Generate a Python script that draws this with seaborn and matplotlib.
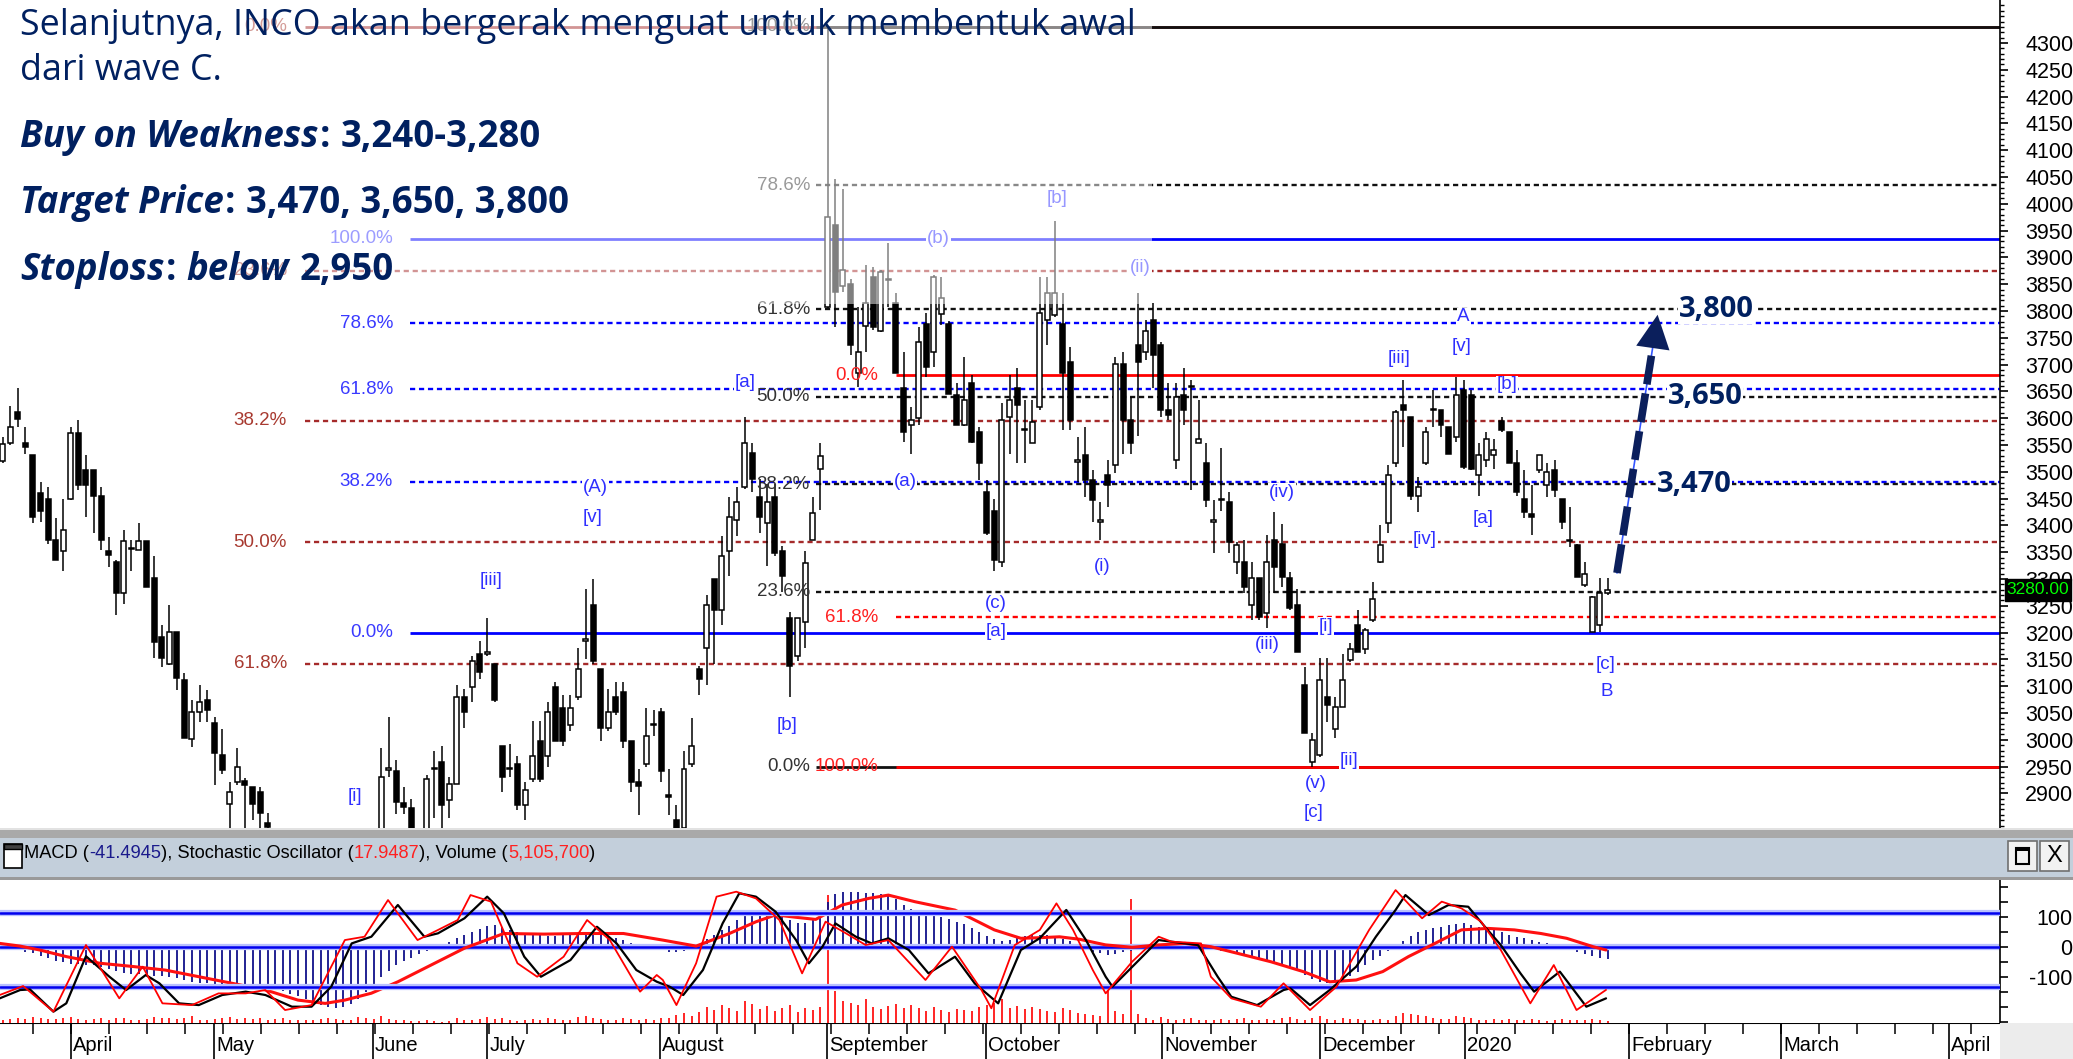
import numpy as np
import pandas as pd
import matplotlib
matplotlib.use("Agg")
import matplotlib.pyplot as plt
from matplotlib.patches import Rectangle
import seaborn as sns

# ---------------- data ----------------
opens = [3520, 3553, 3612, 3553, 3531, 3460, 3450, 3373, 3353, 3449,
         3573, 3503, 3503, 3454, 3353, 3332, 3273, 3358, 3355, 3371,
         3301, 3192, 3142, 3202, 3112, 3001, 3052, 3074, 3031, 2972,
         2881, 2922, 2924, 2912, 2903, 2844, 2820, 2780, 2750, 2720,
         2700, 2680, 2700, 2740, 2770, 2750, 2720, 2760, 2790, 2780,
         2800, 2944, 2941, 2882, 2872, 2820, 2800, 2945, 2958, 2888,
         2917, 3080, 3099, 3161, 3160, 3142, 2989, 2945, 2955, 2878,
         2926, 2998, 2969, 3099, 3060, 3027, 3080, 3185, 3252, 3132,
         3022, 3080, 3089, 2998, 2921, 2955, 3027, 3051, 2897, 2850,
         2835, 2955, 3132, 3171, 3300, 3242, 3353, 3410, 3472, 3535,
         3453, 3405, 3453, 3353, 3228, 3156, 3219, 3372, 3506, 3808,
         3961, 3846, 3850, 3684, 3772, 3864, 3762, 3858, 3814, 3656,
         3588, 3600, 3776, 3724, 3794, 3776, 3643, 3587, 3665, 3575,
         3463, 3426, 3332, 3603, 3656, 3578, 3553, 3621, 3783, 3792,
         3776, 3705, 3519, 3531, 3485, 3407, 3494, 3512, 3702, 3597,
         3737, 3724, 3783, 3737, 3615, 3522, 3643, 3658, 3553, 3516,
         3407, 3450, 3444, 3332, 3332, 3251, 3301, 3236, 3373, 3366,
         3301, 3251, 3102, 2959, 2972, 3080, 3021, 3062, 3149, 3214,
         3170, 3223, 3332, 3404, 3516, 3624, 3603, 3454, 3516, 3615,
         3615, 3584, 3565, 3653, 3643, 3494, 3522, 3531, 3594, 3575,
         3516, 3450, 3422, 3503, 3475, 3503, 3450, 3370, 3363, 3289,
         3201, 3214, 3273]
highs = [3565, 3623, 3656, 3584, 3531, 3481, 3472, 3413, 3450, 3584,
         3597, 3531, 3503, 3472, 3379, 3335, 3391, 3373, 3404, 3371,
         3342, 3214, 3251, 3202, 3124, 3074, 3102, 3093, 3043, 3021,
         2922, 2984, 2928, 2912, 2912, 2863, 2830, 2800, 2790, 2760,
         2740, 2720, 2760, 2790, 2800, 2780, 2770, 2810, 2825, 2820,
         2984, 3043, 2962, 2912, 2890, 2835, 2935, 2979, 2989, 2931,
         3103, 3094, 3156, 3185, 3228, 3142, 2989, 2993, 2969, 2921,
         3036, 3036, 3070, 3108, 3084, 3084, 3171, 3281, 3300, 3132,
         3094, 3108, 3108, 2998, 2945, 3060, 3056, 3060, 2945, 2878,
         2979, 3041, 3137, 3271, 3300, 3381, 3453, 3472, 3602, 3554,
         3487, 3477, 3477, 3362, 3238, 3228, 3353, 3453, 3554, 4330,
         4047, 4028, 3860, 3808, 3886, 3883, 3876, 3926, 3833, 3724,
         3621, 3771, 3796, 3867, 3864, 3782, 3665, 3715, 3680, 3584,
         3485, 3450, 3628, 3680, 3693, 3634, 3634, 3864, 3864, 3967,
         3833, 3733, 3565, 3584, 3503, 3444, 3522, 3715, 3724, 3640,
         3833, 3783, 3814, 3743, 3665, 3665, 3693, 3671, 3634, 3553,
         3447, 3544, 3463, 3369, 3373, 3332, 3301, 3382, 3425, 3403,
         3313, 3282, 3136, 3012, 3152, 3152, 3080, 3161, 3180, 3242,
         3208, 3295, 3401, 3513, 3615, 3671, 3603, 3491, 3584, 3653,
         3615, 3584, 3677, 3671, 3653, 3553, 3575, 3562, 3603, 3575,
         3540, 3503, 3475, 3531, 3516, 3522, 3450, 3435, 3366, 3332,
         3268, 3301, 3301]
lows = [3516, 3550, 3584, 3534, 3404, 3407, 3366, 3335, 3314, 3447,
        3466, 3416, 3385, 3354, 3323, 3233, 3254, 3314, 3354, 3286,
        3152, 3136, 3139, 3093, 3003, 2987, 3034, 3034, 2915, 2937,
        2820, 2915, 2820, 2850, 2820, 2810, 2760, 2730, 2700, 2680,
        2650, 2640, 2690, 2720, 2730, 2700, 2710, 2740, 2760, 2760,
        2790, 2930, 2862, 2862, 2800, 2790, 2790, 2854, 2835, 2854,
        2917, 3022, 3070, 3113, 3156, 3070, 2902, 2931, 2869, 2850,
        2921, 2921, 2950, 2998, 2989, 3017, 3075, 3151, 3142, 2998,
        3017, 3046, 2984, 2902, 2859, 2950, 3008, 2921, 2859, 2825,
        2825, 2950, 3084, 3103, 3142, 3214, 3305, 3380, 3468, 3463,
        3386, 3324, 3343, 3276, 3080, 3147, 3171, 3372, 3429, 3805,
        3770, 3836, 3718, 3659, 3724, 3765, 3760, 3808, 3684, 3556,
        3534, 3587, 3677, 3696, 3774, 3646, 3587, 3585, 3553, 3485,
        3382, 3314, 3323, 3534, 3516, 3516, 3553, 3615, 3737, 3789,
        3578, 3578, 3481, 3453, 3407, 3373, 3435, 3497, 3534, 3534,
        3566, 3708, 3656, 3603, 3597, 3506, 3587, 3466, 3553, 3435,
        3348, 3426, 3348, 3310, 3273, 3223, 3223, 3208, 3273, 3286,
        3242, 3164, 3012, 2950, 2968, 3034, 3003, 3062, 3146, 3164,
        3161, 3220, 3329, 3385, 3509, 3547, 3447, 3425, 3513, 3584,
        3565, 3534, 3556, 3506, 3503, 3454, 3509, 3506, 3575, 3516,
        3454, 3413, 3382, 3497, 3453, 3453, 3394, 3360, 3304, 3286,
        3201, 3202, 3270]
closes = [3552, 3584, 3598, 3546, 3416, 3426, 3373, 3335, 3391, 3573,
          3475, 3475, 3454, 3373, 3345, 3273, 3371, 3356, 3371, 3286,
          3183, 3152, 3202, 3115, 3003, 3052, 3071, 3055, 2975, 2944,
          2903, 2950, 2916, 2881, 2863, 2838, 2780, 2750, 2720, 2700,
          2680, 2700, 2740, 2770, 2750, 2720, 2760, 2790, 2780, 2800,
          2931, 2946, 2884, 2874, 2820, 2810, 2926, 2947, 2878, 2917,
          3080, 3051, 3147, 3127, 3163, 3075, 2931, 2947, 2878, 2907,
          2969, 2926, 3051, 2998, 2998, 3060, 3132, 3187, 3147, 3022,
          3051, 3051, 2998, 2921, 2914, 3008, 3029, 2941, 2893, 2835,
          2945, 2989, 3113, 3252, 3242, 3343, 3415, 3444, 3554, 3487,
          3415, 3444, 3348, 3305, 3137, 3228, 3329, 3424, 3530, 3975,
          3836, 3876, 3737, 3724, 3814, 3771, 3873, 3860, 3684, 3575,
          3597, 3743, 3696, 3864, 3824, 3646, 3587, 3634, 3556, 3516,
          3385, 3335, 3597, 3634, 3624, 3580, 3593, 3796, 3833, 3833,
          3684, 3596, 3521, 3485, 3447, 3409, 3475, 3702, 3597, 3553,
          3705, 3762, 3718, 3615, 3606, 3640, 3615, 3660, 3562, 3447,
          3409, 3447, 3369, 3363, 3285, 3301, 3230, 3332, 3323, 3304,
          3245, 3164, 3012, 2999, 3111, 3065, 3062, 3111, 3170, 3164,
          3205, 3262, 3363, 3494, 3612, 3615, 3454, 3472, 3575, 3617,
          3587, 3534, 3643, 3509, 3506, 3531, 3562, 3540, 3578, 3516,
          3463, 3425, 3416, 3531, 3500, 3466, 3407, 3372, 3304, 3310,
          3266, 3273, 3280]
volume_m = [8, 10, 12, 9, 14, 11, 10, 9, 12, 15,
            10, 8, 9, 11, 7, 13, 12, 8, 7, 10,
            14, 11, 12, 9, 13, 16, 8, 7, 10, 12,
            14, 9, 11, 10, 12, 8, 9, 11, 7, 6,
            8, 7, 10, 12, 9, 6, 8, 14, 11, 9,
            18, 9, 7, 6, 5, 4, 6, 4, 3, 4,
            12, 6, 8, 10, 14, 9, 11, 7, 5, 6,
            9, 7, 12, 10, 8, 6, 14, 18, 12, 9,
            7, 6, 11, 9, 8, 10, 7, 13, 12, 20,
            24, 18, 26, 40, 32, 45, 38, 30, 55, 48,
            35, 42, 30, 38, 44, 28, 36, 32, 40, 320,
            80, 55, 50, 45, 60, 40, 35, 42, 48, 38,
            44, 36, 30, 40, 33, 28, 35, 32, 30, 40,
            45, 50, 60, 38, 42, 35, 40, 34, 30, 28,
            36, 32, 24, 22, 20, 18, 85, 30, 22, 310,
            22, 12, 8, 14, 10, 7, 9, 12, 8, 6,
            8, 10, 6, 9, 12, 7, 6, 10, 8, 12,
            14, 10, 8, 12, 16, 9, 8, 11, 10, 9,
            7, 8, 10, 6, 18, 24, 22, 20, 16, 12,
            10, 9, 18, 14, 12, 8, 6, 9, 7, 10,
            8, 6, 9, 7, 5, 8, 10, 7, 6, 8,
            9, 6, 5.1]
macd_vals = [-5, -8, -12, -16, -22, -30, -38, -46, -52, -56,
             -58, -60, -62, -68, -75, -82, -88, -90, -92, -94,
             -96, -98, -100, -104, -110, -116, -120, -122, -126, -128,
             -130, -132, -133, -134, -134, -136, -140, -148, -156, -165,
             -175, -185, -195, -200, -205, -200, -190, -175, -150, -125,
             -100, -80, -62, -48, -36, -25, -15, -5, 5, 15,
             28, 38, 48, 58, 68, 72, 65, 55, 48, 42,
             40, 38, 36, 37, 38, 40, 42, 44, 44, 40,
             36, 30, 22, 14, 8, 3, -4, -10, -16, -18,
             -14, -5, 10, 25, 40, 55, 70, 90, 108, 120,
             122, 118, 110, 100, 88, 80, 78, 90, 110, 150,
             175, 182, 183, 183, 180, 178, 176, 170, 160, 140,
             125, 118, 112, 108, 100, 92, 84, 75, 62, 48,
             35, 25, 18, 22, 30, 36, 40, 40, 38, 32,
             26, 20, 8, -8, -16, -22, -26, -24, -18, -14,
             -12, -10, -8, -6, -2, 0, 2, 1, -2, -6,
             -11, -15, -19, -22, -28, -34, -40, -48, -55, -62,
             -72, -82, -95, -108, -118, -122, -118, -110, -98, -84,
             -62, -44, -30, -15, 2, 20, 35, 48, 56, 62,
             66, 72, 76, 78, 74, 66, 60, 55, 48, 40,
             34, 28, 22, 16, 12, 8, 2, -10, -18, -24,
             -30, -36, -41]
signal_bar = [-0.4, 2.3, 4.9, 8.4, 12.8, 17.2, 21.5, 25.9, 30.3, 34.7,
              39.0, 42.6, 45.2, 48.7, 52.2, 56.6, 61.0, 66.2, 71.5, 76.7,
              82.0, 87.2, 91.6, 96.0, 99.5, 102.1, 104.8, 107.4, 110.9, 114.4,
              117.0, 120.5, 125.8, 131.0, 134.5, 137.0, 139.6, 142.2, 145.7, 149.2,
              152.7, 156.2, 159.6, 163.1, 167.5, 171.8, 175.3, 178.8, 182.3, 185.7,
              189.2, 192.7, 196.2, 199.7, 203.2, 206.6, 210.1, 211.8]
signal_val = [11, 2, -11, -33, -55, -66, -78, -100, -122, -144,
              -178, -189, -178, -155, -117, -61, -5, 44, 42, 44,
              44, 22, 2, 44, 83, 106, 98, 91, 139, 161,
              172, 150, 122, 56, 28, 30, 33, 25, 6, -2,
              6, 11, 0, -22, -50, -83, -117, -111, -83, -33,
              11, 56, 61, 56, 44, 28, 0, -11]
stoch_k_bar = [-0.4, 2.7, 6.7, 11.0, 15.4, 18.5, 21.1, 25.0, 28.5, 32.1,
               34.7, 37.3, 40.8, 45.2, 47.8, 50.9, 54.8, 57.5, 60.1, 61.8,
               64.5, 68.0, 70.6, 74.1, 77.2, 80.2, 84.2, 86.4, 87.2, 89.0,
               91.6, 94.3, 96.9, 99.5, 102.6, 105.6, 108.7, 111.4, 114.0, 117.0,
               121.9, 125.4, 129.3, 130.6, 133.7, 137.0, 139.2, 141.4, 144.0, 145.7,
               149.2, 152.7, 154.4, 158.3, 159.6, 162.3, 166.2, 169.2, 172.7, 176.2,
               180.5, 184.0, 187.5, 190.1, 192.7, 195.3, 197.9, 201.8, 204.9, 207.9,
               211.8]
stoch_k_val = [13.8, 21.0, 0.4, 54.0, 11.1, 36.6, 7.1, 5.7, 15.1, 15.1,
               17.8, 1.7, 5.7, 58.0, 60.7, 90.2, 58.0, 66.1, 74.1, 94.2,
               88.9, 39.3, 28.5, 44.6, 74.1, 58.0, 16.5, 29.9, 25.9, 5.7,
               39.3, 92.9, 96.9, 91.5, 74.1, 31.2, 72.8, 63.4, 54.0, 58.0,
               25.9, 52.7, 17.8, 3.1, 54.0, 66.1, 87.5, 66.1, 33.9, 15.1,
               40.6, 60.7, 56.7, 55.3, 28.5, 11.1, 4.4, 23.2, 1.7, 20.5,
               66.1, 98.2, 75.5, 88.9, 83.5, 72.8, 50.0, 7.1, 37.9, 1.7,
               17.9]
stoch_d_bar = [-0.4, 2.3, 3.6, 6.7, 8.4, 11.0, 14.1, 16.3, 18.9, 20.7,
               23.3, 25.9, 29.0, 32.1, 34.7, 38.2, 40.8, 43.4, 46.1, 48.7,
               52.2, 55.7, 57.5, 61.0, 64.0, 66.2, 68.9, 71.1, 75.0, 78.5,
               81.1, 83.7, 86.4, 88.1, 89.9, 92.5, 95.1, 97.3, 99.5, 102.1,
               104.8, 106.5, 108.3, 110.0, 112.7, 114.8, 117.0, 119.7, 122.3, 125.8,
               128.4, 131.5, 134.5, 137.0, 140.5, 143.1, 145.7, 146.6, 150.1, 152.7,
               154.4, 157.9, 160.5, 162.3, 165.7, 169.2, 170.1, 172.7, 175.3, 178.8,
               181.4, 184.0, 185.3, 188.4, 191.0, 193.6, 195.8, 197.9, 200.5, 202.3,
               205.7, 209.2, 211.8]
stoch_d_val = [11.1, 17.8, 18.3, 0.4, 7.1, 45.0, 28.5, 17.8, 29.9, 23.2,
               7.1, 5.7, 13.8, 16.5, 13.8, 4.4, 4.4, 20.5, 55.3, 60.7,
               86.2, 60.7, 63.4, 75.5, 92.9, 79.5, 44.6, 28.5, 41.9, 68.7,
               55.3, 33.9, 24.5, 20.5, 13.8, 33.9, 71.4, 95.6, 92.9, 80.8,
               58.0, 39.3, 52.7, 71.4, 60.7, 55.3, 59.4, 50.0, 31.2, 44.6,
               23.2, 7.1, 50.0, 59.5, 82.2, 58.0, 28.5, 20.5, 41.9, 58.0,
               56.7, 54.0, 28.5, 12.4, 5.7, 17.8, 19.2, 5.7, 17.8, 36.6,
               60.7, 82.2, 94.2, 78.1, 86.2, 84.8, 68.7, 54.0, 31.2, 16.5,
               32.6, 4.4, 11.1]
month_labels = ["April", "May", "June", "July", "August", "September", "October",
                "November", "December", "2020", "February", "March", "April"]
month_pos = [9.0, 27.9, 48.9, 64.0, 86.8, 108.9, 129.9, 153.1, 174.0, 193.2, 214.9, 234.9, 257.1]
price_ticks = list(range(2900, 4301, 50))

fibD_pct = [0.0, 23.6, 38.2, 50.0, 61.8]
fibD_price = [4330, 3875, 3595, 3369, 3142]
fibC_pct = [100.0, 78.6, 61.8, 38.2, 0.0]
fibC_price = [3935, 3777, 3654, 3481, 3200]
fibA_pct = [100.0, 78.6, 61.8, 50.0, 38.2, 23.6, 0.0]
fibA_price = [4330, 4035, 3803, 3640, 3477, 3276, 2950]
fibB_pct = [0.0, 61.8, 100.0]
fibB_price = [3680, 3229, 2950]

wave_text = ["[i]", "[iii]", "(A)", "[v]", "[a]", "[b]", "(b)", "[b]", "(ii)", "(a)",
             "(c)", "[a]", "(i)", "(iv)", "(iii)", "[i]", "(v)", "[c]", "[ii]", "[iii]",
             "[iv]", "A", "[v]", "[b]", "[a]", "[c]", "B"]
wave_bar = [46.5, 64.5, 78.3, 77.9, 98.1, 103.6, 123.6, 139.3, 150.3, 119.2,
            131.2, 131.2, 145.2, 169.0, 167.0, 174.8, 173.4, 173.1, 177.8, 184.5,
            187.9, 193.0, 192.7, 198.7, 195.6, 211.8, 211.9]
wave_price = [2894, 3297, 3470, 3415, 3667, 3027, 3936, 4010, 3882, 3482,
              3255, 3202, 3323, 3461, 3177, 3211, 2919, 2865, 2962, 3712,
              3374, 3789, 3734, 3662, 3413, 3140, 3090]

targets = ["3,800", "3,650", "3,470"]
target_price = [3803, 3640, 3477]
last_price_label = "3280.00"
last_price = 3280

# ---------------- setup ----------------
W, H = 2073, 1059
sns.set_theme(style="white")
NARROW = ['Liberation Sans Narrow', 'Liberation Sans', 'DejaVu Sans']
plt.rcParams['font.family'] = NARROW
plt.rcParams['axes.unicode_minus'] = False
NAVY = '#002060'
LAB_FS = 13.5

fig = plt.figure(figsize=(W / 100, H / 100), dpi=100)
fig.patch.set_facecolor('white')
renderer = fig.canvas.get_renderer()


def fx(x):
    return x / W


def fy(y):
    return 1 - y / H


def bx(x):          # pixel x -> bar index
    return (x - 2.7) / 7.57


def py(y):          # pixel y -> price
    return 4300 - (y - 43) / 0.536


XL = (bx(0), bx(2000))

# ---------------- main price panel ----------------
ax = fig.add_axes([0, fy(828), fx(2000), 828 / H])
ax.set_xlim(*XL)
ax.set_ylim(py(828), py(0))
ax.set_facecolor('white')
for s in ['left', 'top', 'bottom']:
    ax.spines[s].set_visible(False)
ax.spines['right'].set_color('black')
ax.spines['right'].set_linewidth(1.2)
ax.set_xticks([])
ax.yaxis.tick_right()
ax.set_yticks(price_ticks)
ax.set_yticks(np.arange(2840, 4380, 10), minor=True)
ax.tick_params(axis='y', which='major', right=True, left=False, labelright=True, labelleft=False,
               length=6, width=1.2, direction='out', pad=12, labelsize=15.5, colors='black')
ax.tick_params(axis='y', which='minor', right=True, left=False, length=3, width=1, colors='black')

# fibonacci sets
DOT = (0, (2.2, 1.6))


def fib_set(pcts, prices, color, lab_color, lab_right, start):
    for pc, p in zip(pcts, prices):
        solid = pc in (0.0, 100.0)
        ax.hlines(p, bx(start), XL[1], colors=color, lw=2.0 if solid else 1.7,
                  linestyles='solid' if solid else DOT, zorder=2)
        ax.text(bx(lab_right), p, f"{pc:.1f}%", color=lab_color, ha='right', va='center',
                fontsize=LAB_FS, zorder=4.6)


fib_set(fibD_pct, fibD_price, '#a52a2a', '#a83a30', 287, 305)
fib_set(fibC_pct, fibC_price, '#0000ff', '#3a3aff', 393, 410)
fib_set(fibA_pct, fibA_price, '#111111', '#333333', 810, 816)
fib_set(fibB_pct, fibB_price, '#ff0000', '#ff2020', 878, 896)

# candles
df = pd.DataFrame(dict(o=opens, h=highs, l=lows, c=closes))
df['i'] = np.arange(len(df))
up = df.c >= df.o
lo = np.minimum(df.o, df.c)
hb = np.maximum((df.c - df.o).abs(), 2.5)
ax.vlines(df.i, df.l, df.h, color='black', lw=1.1, zorder=3)
ax.bar(df.i[up], hb[up], bottom=lo[up], width=0.66, color='white', edgecolor='black', linewidth=1.1, zorder=4)
ax.bar(df.i[~up], hb[~up], bottom=lo[~up], width=0.66, color='black', edgecolor='black', linewidth=1.1, zorder=4)

# wave labels
for t, b, p in zip(wave_text, wave_bar, wave_price):
    ax.text(b, p, t, color='#2f2fff', ha='center', va='center', fontsize=LAB_FS, zorder=4.8,
            bbox=dict(fc='white', ec='none', pad=0.6))

# faded (semi-transparent white) area behind the text block
ax.add_patch(Rectangle((XL[0], py(304)), bx(1152) - XL[0], py(0) - py(304),
                       fc='white', ec='none', alpha=0.5, zorder=5))

# forecast arrow
tail = (bx(1617), py(573))
tip = (bx(1658), py(312))
neck = (bx(1655), py(333))
ax.plot([tail[0], neck[0]], [tail[1], neck[1]], color='#3355ff', lw=1.2, zorder=6)
ax.plot([tail[0], neck[0]], [tail[1], neck[1]], color='#0b1f5c', lw=5.5, dashes=(3.8, 1.2),
        solid_capstyle='butt', zorder=6.5)
ax.annotate('', xy=tip, xytext=neck,
            arrowprops=dict(arrowstyle='-|>,head_length=1.1,head_width=0.55', mutation_scale=22,
                            color='#0b1f5c', lw=0), zorder=7)

for t, p, xl in zip(targets, target_price, [1679, 1668, 1657]):
    ax.text(bx(xl), p, t, color=NAVY, fontsize=21, fontweight='bold', family=['Open Sans', 'DejaVu Sans'],
            ha='left', va='center', zorder=7, bbox=dict(fc='white', ec='none', pad=0.5))

# ---------------- lower indicator panel ----------------
low_top, low_bot = 880, 1022.7
pos_low = [0, fy(low_bot), fx(2000), (low_bot - low_top) / H]
axv = fig.add_axes(pos_low)
axv.set_xlim(*XL)
axv.set_ylim(0, (low_bot - low_top) * 2.5)
axv.axis('off')
axv.vlines(np.arange(len(volume_m)), 0, volume_m, color='#ff0000', lw=1.2)

axl = fig.add_axes(pos_low)
axl.patch.set_visible(False)
axl.set_xlim(*XL)
axl.set_ylim((946.7 - low_bot) / 0.3, (946.7 - low_top) / 0.3)
for s in ['left', 'top', 'bottom']:
    axl.spines[s].set_visible(False)
axl.spines['right'].set_color('black')
axl.spines['right'].set_linewidth(1.2)
axl.set_xticks([])
axl.yaxis.tick_right()
lt = np.arange(-250, 221, 50)
axl.set_yticks(lt)
axl.set_yticklabels([str(v) if v in (100, 0, -100) else '' for v in lt])
axl.tick_params(axis='y', right=True, left=False, labelright=True, labelleft=False, length=6,
                width=1.2, pad=46, labelsize=15.5, colors='black')
for lab in axl.get_yticklabels():
    lab.set_horizontalalignment('right')
axl.vlines(np.arange(len(macd_vals)), 0, macd_vals, color='#10108a', lw=1.3, zorder=2)
axl.axhline(0, color='#b8c0ff', lw=4.5, zorder=2.5)
axl.axhline(0, color='#0000ee', lw=1.8, zorder=2.6)
sns.lineplot(x=signal_bar, y=signal_val, ax=axl, color='#ff1010', lw=2.2, sort=False,
             estimator=None, legend=False, zorder=3)

axs = fig.add_axes(pos_low)
axs.patch.set_visible(False)
axs.set_xlim(*XL)
axs.set_ylim(80 - (low_bot - 912.7) / 1.2433, 80 + (912.7 - low_top) / 1.2433)
axs.axis('off')
for lvl in (80, 20):
    axs.axhline(lvl, color='#b8c0ff', lw=4.5, zorder=1)
    axs.axhline(lvl, color='#0000ee', lw=1.8, zorder=1.1)
sns.lineplot(x=stoch_d_bar, y=stoch_d_val, ax=axs, color='black', lw=1.6, sort=False,
             estimator=None, legend=False, zorder=3)
sns.lineplot(x=stoch_k_bar, y=stoch_k_val, ax=axs, color='#ff0000', lw=1.3, sort=False,
             estimator=None, legend=False, zorder=3.2)
axs.set_xlim(*XL)
axl.set_xlim(*XL)

# ---------------- date axis ----------------
axd = fig.add_axes([0, 0, fx(2000), (H - low_bot) / H])
axd.set_xlim(*XL)
axd.set_ylim(0, 1)
axd.axis('off')
axd.axhline(1, color='black', lw=1.5)
axd.vlines(month_pos, 0, 1, color='black', lw=1.2)
axd.vlines(np.arange(4, 264, 5.02), 0.7, 1, color='black', lw=1.1)
for lab, p in zip(month_labels, month_pos):
    axd.text(p + 0.3, 0.38, lab, ha='left', va='center', fontsize=14.5, color='black')
fig.add_artist(Rectangle((fx(2000), 0), 1 - fx(2000), (H - low_bot) / H,
                         transform=fig.transFigure, fc='#ececec', ec='none', zorder=1))

# ---------------- splitter & header bar ----------------
fig.add_artist(Rectangle((0, fy(838)), 1, 10 / H, transform=fig.transFigure, fc='#a9a9a9', ec='none', zorder=1))
fig.add_artist(Rectangle((0, fy(830)), 1, 2 / H, transform=fig.transFigure, fc='#e2e2e2', ec='none', zorder=1.1))
fig.add_artist(Rectangle((0, fy(877)), 1, 39 / H, transform=fig.transFigure, fc='#c3cfdb', ec='none', zorder=1))
fig.add_artist(Rectangle((0, fy(880)), 1, 3 / H, transform=fig.transFigure, fc='#9a9a9a', ec='none', zorder=1.1))
# window icon
fig.add_artist(Rectangle((fx(4), fy(868)), 18 / W, 24 / H, transform=fig.transFigure, fc='white',
                         ec='black', lw=1.2, zorder=2))
fig.add_artist(Rectangle((fx(4), fy(849)), 18 / W, 5 / H, transform=fig.transFigure, fc='#404040',
                         ec='black', lw=1, zorder=2.1))
# buttons
for bx0, sym in [(2008, 'box'), (2040, 'X')]:
    fig.add_artist(Rectangle((fx(bx0), fy(871)), 29 / W, 30 / H, transform=fig.transFigure,
                             fc='#f2f2f2', ec='#707070', lw=1.2, zorder=2))
    if sym == 'box':
        fig.add_artist(Rectangle((fx(bx0 + 8), fy(864)), 13 / W, 16 / H, transform=fig.transFigure,
                                 fc='none', ec='black', lw=1.5, zorder=2.2))
        fig.add_artist(Rectangle((fx(bx0 + 8), fy(851)), 13 / W, 3 / H, transform=fig.transFigure,
                                 fc='black', ec='none', zorder=2.2))
    else:
        fig.text(fx(bx0 + 14.5), fy(856), 'X', ha='center', va='center', fontsize=17,
                 color='black', zorder=3)


def wid(t):
    return t.get_window_extent(renderer=renderer).width


# header text (mixed colours)
hdr = [("MACD (", 'black'), ("-41.4945", '#1a1a8c'), ("), Stochastic Oscillator (", 'black'),
       ("17.9487", '#ff2020'), ("), Volume (", 'black'), ("5,105,700", '#ff2020'), (")", 'black')]
full = "".join(s for s, _ in hdr)
probe = fig.text(0, 0, full + "x", fontsize=15)
probe_x = fig.text(0, 0, "x", fontsize=15)
scale = 571 / (wid(probe) - wid(probe_x))
probe.remove(); probe_x.remove()
hfs = 15 * scale
prefix = ""
for s, col in hdr:
    p1 = fig.text(0, 0, prefix + "x", fontsize=hfs)
    p2 = fig.text(0, 0, "x", fontsize=hfs)
    off = (wid(p1) - wid(p2)) if prefix else 0
    p1.remove(); p2.remove()
    fig.text(fx(24 + off), fy(853), s, fontsize=hfs, color=col, ha='left', va='center', zorder=3)
    prefix += s

# ---------------- text block (top-left) ----------------
SANS = ['Open Sans', 'DejaVu Sans']


def fitted(s, target, weight='normal', style='normal'):
    t = fig.text(0, 0, s, fontsize=20, family=SANS, fontweight=weight, fontstyle=style)
    w = wid(t)
    t.remove()
    return 20 * target / w


fs1 = fitted("Selanjutnya, INCO akan bergerak menguat untuk membentuk awal", 1113)
fig.text(fx(20), fy(35), "Selanjutnya, INCO akan bergerak menguat untuk membentuk awal",
         fontsize=fs1, family=SANS, color=NAVY, va='baseline', zorder=10)
fig.text(fx(20), fy(80), "dari wave C.", fontsize=fs1, family=SANS, color=NAVY, va='baseline', zorder=10)


def seg_line(x0, ybase, segs, fs, draw=True):
    x = x0
    sp_a = fig.text(0, 0, "a a", fontsize=fs, family=SANS, fontweight='bold')
    sp_b = fig.text(0, 0, "aa", fontsize=fs, family=SANS, fontweight='bold')
    space = wid(sp_a) - wid(sp_b)
    sp_a.remove(); sp_b.remove()
    for s, sty in segs:
        if s == ' ':
            x += space
            continue
        t = fig.text(fx(x), fy(ybase), s, fontsize=fs, family=SANS, fontweight='bold',
                     fontstyle=sty, color=NAVY, va='baseline', ha='left', zorder=10)
        x += wid(t) + 1
        if not draw:
            t.remove()
    return x - x0


line3 = [("Buy on Weakness", 'italic'), (":", 'normal'), (' ', None), ("3,240-3,280", 'normal')]
line4 = [("Target Price", 'italic'), (":", 'normal'), (' ', None), ("3,470, 3,650, 3,800", 'normal')]
line5 = [("Stoploss", 'italic'), (":", 'normal'), (' ', None), ("below", 'italic'), (' ', None), ("2,950", 'normal')]
w4 = seg_line(20, 213, line4, 20, draw=False)
fsb = 20 * 551 / w4
seg_line(20, 147, line3, fsb)
seg_line(20, 213, line4, fsb)
seg_line(20, 280, line5, fsb)

# last price box
fig.add_artist(Rectangle((fx(2005), fy(601)), 66 / W, 22 / H, transform=fig.transFigure,
                         fc='black', ec='black', zorder=10))
fig.text(fx(2038), fy(590), last_price_label, ha='center', va='center', color='#00ff00',
         fontsize=12.5, zorder=11)

fig.savefig("out.png", dpi=100, facecolor='white')
